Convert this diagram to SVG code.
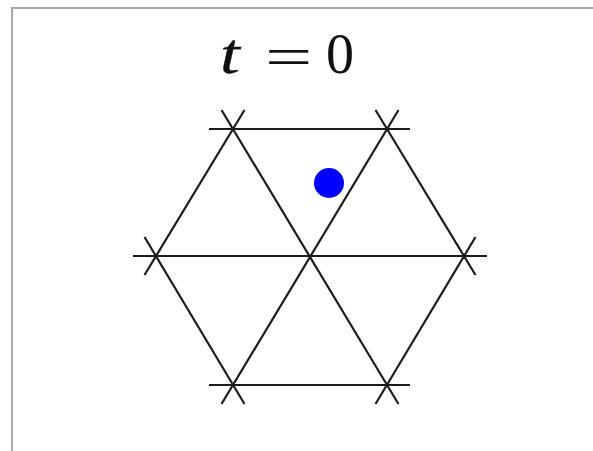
<svg xmlns="http://www.w3.org/2000/svg" width="593" height="451" viewBox="0 0 593 451">
<style>
.ln{stroke:#1c1c1c;stroke-width:2.2;fill:none;stroke-linecap:butt}
.frame{stroke:#a8a8a8;stroke-width:2;fill:none}
.title{font-family:"Liberation Serif",serif;fill:#111}
</style>
<rect width="593" height="451" fill="#ffffff"/>
<g id="frame">
<line class="frame" x1="11" y1="8" x2="593" y2="8"/>
<line class="frame" x1="12" y1="8" x2="12" y2="451"/>
</g>
<g id="title">
<text class="title" transform="translate(220,73) scale(1.25,1)" font-size="57" font-style="italic" stroke="#111" stroke-width="0.3">t</text>
<text class="title" transform="translate(265,76) scale(1.5,1)" font-size="56">=</text>
<text class="title" x="326" y="73" font-size="56">0</text>
</g>
<g id="lattice">
<line class="ln" x1="209" y1="129" x2="410" y2="129"/>
<line class="ln" x1="133" y1="256" x2="487" y2="256"/>
<line class="ln" x1="209" y1="385" x2="410" y2="385"/>
<line class="ln" x1="144.5" y1="275" x2="244.5" y2="110"/>
<line class="ln" x1="221.5" y1="404" x2="398.5" y2="110"/>
<line class="ln" x1="375.5" y1="404" x2="475.5" y2="237"/>
<line class="ln" x1="221.5" y1="110" x2="398.5" y2="404"/>
<line class="ln" x1="375.5" y1="110" x2="475.5" y2="275"/>
<line class="ln" x1="144.5" y1="237" x2="244.5" y2="404"/>
</g>
<g id="particle">
<circle cx="329" cy="183" r="15" fill="#0000ff"/>
</g>
</svg>
